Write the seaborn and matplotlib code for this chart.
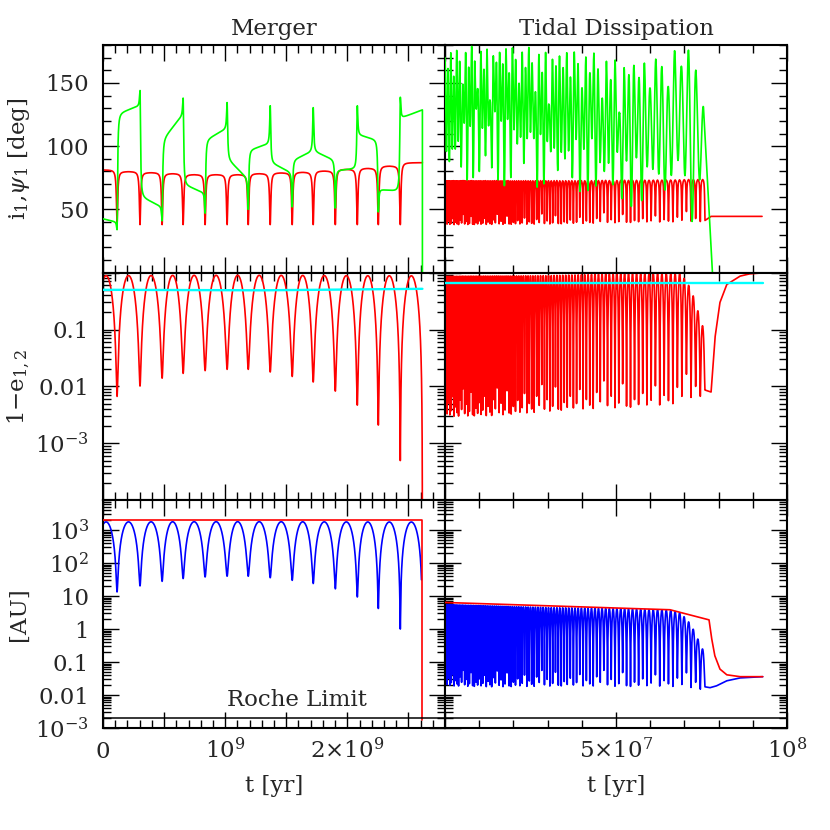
import numpy as np
import matplotlib
matplotlib.use("Agg")
import matplotlib.pyplot as plt
import seaborn as sns
from matplotlib.ticker import MultipleLocator, LogLocator, FuncFormatter

# ---------------- data ----------------
# Merger run (left column), times in yr
merger_dip_t = [0.115e9, 0.303e9, 0.484e9, 0.656e9, 0.836e9, 1.016e9, 1.189e9,
                1.369e9, 1.549e9, 1.721e9, 1.902e9, 2.082e9, 2.254e9, 2.434e9]
merger_first_dip = -0.065e9
merger_t_end = 2.615e9
merger_onee_dip = [0.0067, 0.0102, 0.014, 0.017, 0.019, 0.020, 0.020,
                   0.018, 0.015, 0.012, 0.0083, 0.0047, 0.0021, 0.0005]
merger_onee_peak = 0.88
merger_onee_final = 1e-6
merger_i_plateau = [81.3, 80.0, 79.2, 78.4, 77.6, 77.6, 77.6, 78.4,
                    79.0, 79.5, 80.5, 81.8, 82.6, 84.4, 87.0]
merger_i_dip = 38.0
merger_psi_start = [42.6, 126, 60, 105, 69.5, 105, 90, 97, 87, 89, 96, 81, 109, 66, 122]
merger_psi_end = [40, 132, 52, 125, 63, 114, 74, 102, 79, 96, 89, 82, 105, 64, 128.7]
merger_psi_spike = [34, 144, 41, 138, 47, 134.5, 50, 132, 52, 130.5, 51, 132, 48, 138.7]
merger_psi_final = -10
merger_e2_t = [0, 1.3e9, 2.615e9]
merger_e2 = [0.50, 0.49, 0.52]
merger_a1 = 2000.0
merger_a1_final = 0.0018
merger_apc_cut = 30.0
roche_limit = 0.00205

# Tidal dissipation run (right column)
tidal_per_t = [0, 1.5e7, 3.0e7, 4.5e7, 6.0e7, 7.75e7]
tidal_per = [0.4e6, 0.55e6, 0.8e6, 1.05e6, 1.25e6, 1.4e6]
tidal_peak_t = [0, 3e7, 5e7, 6.9e7, 7.2e7, 7.4e7, 7.55e7, 7.7e7, 7.78e7]
tidal_peak = [0.86, 0.88, 0.95, 0.95, 0.5, 0.2, 0.1, 0.05, 0.03]
tidal_min_t = [0, 1.4e7, 2.8e7, 3.75e7, 5.7e7, 6.96e7, 7.4e7, 7.75e7]
tidal_min = [0.003, 0.0031, 0.0036, 0.004, 0.0044, 0.0052, 0.0065, 0.0078]
tidal_jag = [1.0, 1.35, 1.1, 1.7, 1.05, 1.25, 2.2, 1.0, 1.45, 1.15, 1.0, 1.9, 1.3, 3.0, 1.1,
             1.6, 1.0, 1.2, 2.6, 1.05]
tidal_osc_end = 7.74e7
tidal_onee_post_t = [7.78e7, 7.85e7, 7.9e7, 8.04e7, 8.24e7, 8.63e7, 8.9e7, 9.27e7]
tidal_onee_post = [0.008, 0.03, 0.076, 0.30, 0.62, 0.87, 0.95, 0.99]
tidal_e2_t = [0, 9.29e7]
tidal_e2 = [0.67, 0.67]
tidal_i_plat_t = [0, 4e7, 6.5e7, 7.6e7]
tidal_i_plat = [73.5, 73.5, 74.0, 74.5]
tidal_i_low_t = [0, 3e7, 6e7, 7.7e7]
tidal_i_low = [38.0, 38.5, 40.0, 40.5]
tidal_i_post_t = [7.78e7, 9.27e7]
tidal_i_post = [44.5, 44.5]
tidal_psi_per_t = [0, 3e7, 5e7, 6e7, 7e7, 7.75e7]
tidal_psi_per = [0.85e6, 1.0e6, 1.3e6, 1.7e6, 2.1e6, 2.4e6]
tidal_psi_hi_t = [0, 1e7, 2.5e7, 4e7, 5e7, 6e7, 6.8e7, 7.3e7, 7.6e7, 7.75e7]
tidal_psi_hi = [170, 175, 173, 170, 166, 162, 176, 168, 160, 152]
tidal_psi_hi_jag = [0, -9, 3, -16, 4, -5, -24, 1, -11, 5, -7, -30, 0, -14, 2, -40, -3, -8]
tidal_psi_loa_t = [0, 0.5e7, 1e7, 1.5e7, 2e7, 3e7, 4e7, 5e7, 6e7, 7e7, 7.75e7]
tidal_psi_loa = [95, 105, 115, 117, 110, 100, 92, 85, 80, 75, 60]
tidal_psi_lob_t = [0, 1e7, 2e7, 3e7, 4e7, 5e7, 6e7, 7e7, 7.5e7, 7.75e7]
tidal_psi_lob = [76, 75, 72, 70, 66, 60, 52, 48, 38, 30]
tidal_psi_lo_jag = [0, 12, -4, 22, 3, 8, 30, -2, 15, 0, 40, 5, -3, 18, 0, 9, 26]
tidal_psi_final_t = 7.84e7
tidal_psi_final = -10
tidal_a_t = [0, 6.58e7, 7.72e7, 7.80e7, 7.89e7, 8.04e7, 8.24e7, 8.63e7, 9.29e7]
tidal_a = [6.4, 3.85, 1.9, 0.5, 0.155, 0.061, 0.041, 0.036, 0.036]
tidal_apc_post_t = [7.75e7, 7.94e7, 8.24e7, 8.63e7, 9.29e7]
tidal_apc_post = [0.0167, 0.019, 0.027, 0.033, 0.036]

# tick labels
merger_xlabels = {0: "0", 1e9: r"$10^{9}$", 2e9: r"$2{\times}10^{9}$"}
tidal_xlabels = {5e7: r"$5{\times}10^{7}$", 1e8: r"$10^{8}$"}
incl_ylabels = {50: "50", 100: "100", 150: "150"}
ecc_ylabels = {0.1: "0.1", 0.01: "0.01", 1e-3: r"$10^{-3}$"}
au_ylabels = {1e-3: r"$10^{-3}$", 0.01: "0.01", 0.1: "0.1", 1: "1", 10: "10",
              100: r"$10^{2}$", 1000: r"$10^{3}$"}

RED, GREEN, BLUE, CYAN = "#ff0000", "#00ff00", "#0000ff", "#00ffff"
LW = 1.2


def lor(d, w):
    return 1.0 / (1.0 + (d / w) ** 2)


def li(t, xt, xv):
    return np.interp(t, xt, xv)


def lg(t, xt, xv):
    return 10 ** np.interp(t, xt, np.log10(xv))


# ---------------- build Merger curves ----------------
mdips = np.array(merger_dip_t)
tm = np.union1d(np.linspace(0, merger_t_end, 16001), mdips)
tm = tm[tm <= merger_t_end]

b = np.array([merger_first_dip] + merger_dip_t + [merger_t_end])
m = np.array([merger_onee_dip[0]] + merger_onee_dip + [merger_onee_final])
k = np.clip(np.searchsorted(b, tm, side="right") - 1, 0, len(b) - 2)
ph = (tm - b[k]) / (b[k + 1] - b[k])
m_onee = merger_onee_peak * np.sin(np.pi * ph) ** 2 + m[k] * (1 - ph) + m[k + 1] * ph

k2 = np.searchsorted(mdips, tm, side="right")
plat = np.array(merger_i_plateau)[k2]
dmin = np.min(np.abs(tm[:, None] - mdips[None, :]), axis=1)
m_i = plat - (plat - merger_i_dip) * lor(dmin, 0.006e9)

bg = np.array([0.0] + merger_dip_t + [merger_t_end])
kg = np.clip(np.searchsorted(bg, tm, side="right") - 1, 0, len(bg) - 2)
s = np.array(merger_psi_start)[kg]
e = np.array(merger_psi_end)[kg]
phg = (tm - bg[kg]) / (bg[kg + 1] - bg[kg])
m_psi = s + (e - s) * phg
spk = np.array(merger_psi_spike)
wg = 0.005e9
has_start = kg >= 1
m_psi = m_psi + np.where(has_start, (spk[np.clip(kg - 1, 0, 13)] - s) * lor(tm - bg[kg], wg), 0)
has_end = kg <= 13
m_psi = m_psi + np.where(has_end, (spk[np.clip(kg, 0, 13)] - e) * lor(bg[kg + 1] - tm, wg), 0)
m_psi_t = np.append(tm, merger_t_end)
m_psi = np.append(m_psi, merger_psi_final)

m_apc = merger_a1 * m_onee
keep = ~((tm > mdips[-1] + 0.09e9) & (m_apc < merger_apc_cut))
m_apc_t, m_apc = tm[keep], m_apc[keep]
m_a_t = [0, merger_t_end, merger_t_end]
m_a = [merger_a1, merger_a1, merger_a1_final]

# ---------------- build Tidal curves ----------------
dips = [-0.2e6]
while True:
    nxt = dips[-1] + li(dips[-1], tidal_per_t, tidal_per)
    if nxt > tidal_osc_end:
        break
    dips.append(nxt)
dips = np.array(dips)
jag = np.array([tidal_jag[j % len(tidal_jag)] for j in range(len(dips))])
mins = lg(dips, tidal_min_t, tidal_min) * jag
ilow = li(dips, tidal_i_low_t, tidal_i_low) + 4.0 * (jag - 1.0)

u = np.linspace(0, 1, 61)[:-1]
phc = 0.5 - 0.5 * np.cos(np.pi * u)
T, O, I = [], [], []
for j in range(len(dips) - 1):
    t = dips[j] + phc * (dips[j + 1] - dips[j])
    pk = lg(t, tidal_peak_t, tidal_peak)
    onee = pk * np.sin(np.pi * phc) ** 2 + mins[j] * (1 - phc) + mins[j + 1] * phc
    pl = li(t, tidal_i_plat_t, tidal_i_plat)
    low = np.where(phc < 0.5, ilow[j], ilow[j + 1])
    dph = np.minimum(phc, 1 - phc)
    inc = pl - (pl - low) * lor(dph, 0.08)
    T.append(t); O.append(onee); I.append(inc)
T = np.concatenate(T + [dips[-1:]])
O = np.concatenate(O + [mins[-1:]])
I = np.concatenate(I + [ilow[-1:]])
sel = T >= 0
T, O, I = T[sel], O[sel], I[sel]

t_onee = np.concatenate([T, tidal_onee_post_t])
v_onee = np.concatenate([O, tidal_onee_post])
t_inc = np.concatenate([T, tidal_i_post_t])
v_inc = np.concatenate([I, tidal_i_post])
t_apc = np.concatenate([T, tidal_apc_post_t])
v_apc = np.concatenate([lg(T, tidal_a_t, tidal_a) * O, tidal_apc_post])

# psi_1 (tidal): alternating shallow / deep minima
gdips = [0.0]
while True:
    P = li(gdips[-1], tidal_psi_per_t, tidal_psi_per)
    if gdips[-1] + P > tidal_osc_end + 0.02e7:
        break
    gdips.append(gdips[-1] + P)
gdips = np.array(gdips)
hi_pk = li(gdips, tidal_psi_hi_t, tidal_psi_hi) + np.array(
    [tidal_psi_hi_jag[j % len(tidal_psi_hi_jag)] for j in range(len(gdips))])
hi_pk = np.minimum(hi_pk, 179)
ug = np.linspace(0, 1, 25)[:-1]
GT, GV = [], []
for n in range(len(gdips) - 1):
    t = gdips[n] + ug * (gdips[n + 1] - gdips[n])
    tmid = 0.5 * (gdips[n] + gdips[n + 1])
    lo = li(tmid, tidal_psi_loa_t, tidal_psi_loa) if n % 2 == 0 else li(tmid, tidal_psi_lob_t, tidal_psi_lob)
    lo = lo + tidal_psi_lo_jag[n % len(tidal_psi_lo_jag)] * (1 if n % 2 else 0.4)
    hi = hi_pk[n] * (1 - ug) + hi_pk[n + 1] * ug
    c = (1 + np.cos(2 * np.pi * ug)) / 2
    GT.append(t); GV.append(lo + (hi - lo) * c)
GT.append(gdips[-1:]); GV.append(hi_pk[-1:])
GT.append([tidal_psi_final_t]); GV.append([tidal_psi_final])
t_psi = np.concatenate(GT)
v_psi = np.concatenate(GV)

# ---------------- figure ----------------
sns.set_style("ticks")
plt.rcParams["font.family"] = ["DejaVu Serif"]
plt.rcParams["mathtext.fontset"] = "dejavuserif"

fig = plt.figure(figsize=(8.3, 8.3), dpi=100)
fig.patch.set_facecolor("white")
gs = fig.add_gridspec(3, 2, left=103 / 830, right=787 / 830, top=1 - 45 / 830,
                      bottom=1 - 728 / 830, wspace=0, hspace=0)
axes = [[fig.add_subplot(gs[r, c]) for c in range(2)] for r in range(3)]


def line(ax, x, y, color, lw=LW, z=2):
    sns.lineplot(x=np.asarray(x), y=np.asarray(y), ax=ax, color=color, linewidth=lw,
                 estimator=None, sort=False, legend=False, zorder=z)


# top row
line(axes[0][0], tm, m_i, RED)
line(axes[0][0], m_psi_t, m_psi, GREEN, z=3)
line(axes[0][1], t_inc, v_inc, RED)
line(axes[0][1], t_psi, v_psi, GREEN, z=3)
# middle row
line(axes[1][0], tm, m_onee, RED)
line(axes[1][0], merger_e2_t, merger_e2, CYAN, lw=1.7, z=3)
line(axes[1][1], t_onee, v_onee, RED)
line(axes[1][1], tidal_e2_t, tidal_e2, CYAN, lw=1.7, z=3)
# bottom row
line(axes[2][0], m_apc_t, m_apc, BLUE)
line(axes[2][0], m_a_t, m_a, RED, z=3)
line(axes[2][1], t_apc, v_apc, BLUE)
line(axes[2][1], tidal_a_t, tidal_a, RED, z=3)
for c in range(2):
    axes[2][c].axhline(roche_limit, color="black", lw=1.1, zorder=4)


def fmt(mapping):
    def f(v, p):
        for key, lab in mapping.items():
            if abs(v - key) <= 1e-6 * max(abs(key), 1e-12) or (key == 0 and abs(v) < 1):
                return lab
        return ""
    return FuncFormatter(f)


for r in range(3):
    for c in range(2):
        ax = axes[r][c]
        ax.set_xlabel(""); ax.set_ylabel("")
        if c == 0:
            ax.set_xlim(0, 2.8e9)
            ax.xaxis.set_major_locator(MultipleLocator(5e8))
            ax.xaxis.set_minor_locator(MultipleLocator(1e8))
            ax.xaxis.set_major_formatter(fmt(merger_xlabels))
        else:
            ax.set_xlim(0, 1e8)
            ax.xaxis.set_major_locator(MultipleLocator(5e7))
            ax.xaxis.set_minor_locator(MultipleLocator(1e7))
            ax.xaxis.set_major_formatter(fmt(tidal_xlabels))
        if r == 0:
            ax.set_ylim(0, 180)
            ax.yaxis.set_major_locator(MultipleLocator(50))
            ax.yaxis.set_minor_locator(MultipleLocator(10))
            ax.yaxis.set_major_formatter(fmt(incl_ylabels))
        else:
            ax.set_yscale("log")
            if r == 1:
                ax.set_ylim(1e-4, 1)
                ax.yaxis.set_major_formatter(fmt(ecc_ylabels))
            else:
                ax.set_ylim(1e-3, 8e3)
                ax.yaxis.set_major_formatter(fmt(au_ylabels))
            ax.yaxis.set_major_locator(LogLocator(base=10, numticks=30))
            ax.yaxis.set_minor_locator(LogLocator(base=10, subs=np.arange(2, 10), numticks=100))
        ax.tick_params(which="both", direction="in", top=True, right=True,
                       bottom=True, left=True, width=1.0, color="black")
        ax.tick_params(which="major", length=11.5)
        ax.tick_params(which="minor", length=6)
        ax.tick_params(axis="y", labelsize=16.5, pad=10, labelleft=(c == 0))
        ax.tick_params(axis="x", labelsize=16.5, pad=21.5, labelbottom=(r == 2))
        for sp in ax.spines.values():
            sp.set_linewidth(1.5)
            sp.set_color("black")
        ax.set_facecolor("white")
        ax.grid(False)

fig.canvas.draw()
for c in range(2):
    for tk in axes[2][c].xaxis.get_major_ticks():
        tk.label1.set_verticalalignment("baseline")

axes[2][0].text((227 - 103) / 342, (728 - 706) / 228, "Roche Limit", transform=axes[2][0].transAxes,
                fontsize=16.5, ha="left", va="baseline")

fig.text(274 / 830, 1 - 35 / 830, "Merger", ha="center", va="baseline", fontsize=16.5)
fig.text(616 / 830, 1 - 35 / 830, "Tidal Dissipation", ha="center", va="baseline", fontsize=16.5)
fig.text(19 / 830, 1 - 159 / 830, r"i$_1$,$\psi_1$ [deg]", rotation=90, ha="center", va="center", fontsize=16.5)
fig.text(19 / 830, 1 - 387 / 830, r"1$-$e$_{1,2}$", rotation=90, ha="center", va="center", fontsize=16.5)
fig.text(19 / 830, 1 - 614 / 830, "[AU]", rotation=90, ha="center", va="center", fontsize=16.5)
fig.text(274 / 830, 1 - 786 / 830, "t [yr]", ha="center", va="center", fontsize=16.5)
fig.text(616 / 830, 1 - 786 / 830, "t [yr]", ha="center", va="center", fontsize=16.5)

fig.savefig("out.png", dpi=100, facecolor="white")
